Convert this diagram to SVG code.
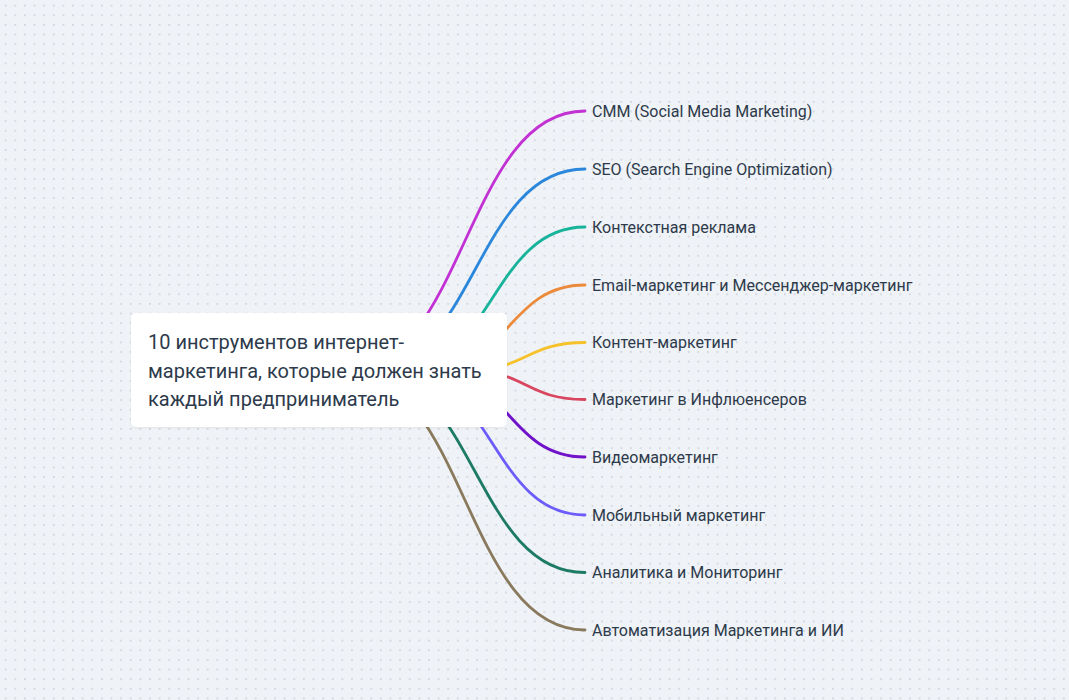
<svg xmlns="http://www.w3.org/2000/svg" width="1069" height="700" viewBox="0 0 1069 700">
  <defs>
    <pattern id="dots" x="0.9" y="0.9" width="9.62" height="9.62" patternUnits="userSpaceOnUse">
      <rect x="4" y="4" width="1.5" height="1.5" fill="#c6cbd4"/>
    </pattern>
    <filter id="shadow" x="-5%" y="-10%" width="110%" height="130%">
      <feDropShadow dx="0" dy="1" stdDeviation="1.2" flood-color="#000" flood-opacity="0.06"/>
    </filter>
  </defs>
  <style>
    .edge { fill: none; stroke-width: 2.8; stroke-linecap: round; }
    .label { font-family: Roboto, "Noto Sans", "DejaVu Sans", sans-serif; font-size: 16px; fill: #2d3a4b; }
    .title { font-family: Roboto, "Noto Sans", "DejaVu Sans", sans-serif; font-size: 20px; fill: #2d3a4b; }
  </style>
  <rect width="1069" height="700" fill="#eff2f6"/>
  <rect width="1069" height="700" fill="url(#dots)"/>

  <g id="connectors">
    <path class="edge" stroke="#c231d4" d="M345,370.5 C465,370.5 465,111 585,111"/>
    <path class="edge" stroke="#2b87db" d="M365,370.5 C475,370.5 475,169 585,169"/>
    <path class="edge" stroke="#17b39b" d="M399,370.5 C492,370.5 492,227 585,227"/>
    <path class="edge" stroke="#ec8a3b" d="M430,370.5 C507.5,370.5 507.5,285 585,285"/>
    <path class="edge" stroke="#f5c22c" d="M467,370.5 C526,370.5 526,342.5 585,342.5"/>
    <path class="edge" stroke="#d9465f" d="M467,370.5 C526,370.5 526,399.5 585,399.5"/>
    <path class="edge" stroke="#7012c9" d="M430,370.5 C507.5,370.5 507.5,457 585,457"/>
    <path class="edge" stroke="#6c5cfb" d="M399,370.5 C492,370.5 492,515 585,515"/>
    <path class="edge" stroke="#1c7a65" d="M365,370.5 C475,370.5 475,572.5 585,572.5"/>
    <path class="edge" stroke="#8a7a5d" d="M345,370.5 C465,370.5 465,630 585,630"/>
  </g>

  <g id="root">
    <rect x="131" y="313" width="376" height="114" rx="5" fill="#ffffff" filter="url(#shadow)"/>
    <text class="title" x="148" y="349">10 инструментов интернет-</text>
    <text class="title" x="148" y="377.5">маркетинга, которые должен знать</text>
    <text class="title" x="148" y="406">каждый предприниматель</text>
  </g>

  <g id="n1"><text class="label" x="592" y="116.5">CMM (Social Media Marketing)</text></g>
  <g id="n2"><text class="label" x="592" y="174.5">SEO (Search Engine Optimization)</text></g>
  <g id="n3"><text class="label" x="592" y="232.5">Контекстная реклама</text></g>
  <g id="n4"><text class="label" x="592" y="290.5">Email-маркетинг и Мессенджер-маркетинг</text></g>
  <g id="n5"><text class="label" x="592" y="348">Контент-маркетинг</text></g>
  <g id="n6"><text class="label" x="592" y="405">Маркетинг в Инфлюенсеров</text></g>
  <g id="n7"><text class="label" x="592" y="462.5">Видеомаркетинг</text></g>
  <g id="n8"><text class="label" x="592" y="520.5">Мобильный маркетинг</text></g>
  <g id="n9"><text class="label" x="592" y="578">Аналитика и Мониторинг</text></g>
  <g id="n10"><text class="label" x="592" y="635.5">Автоматизация Маркетинга и ИИ</text></g>
</svg>
